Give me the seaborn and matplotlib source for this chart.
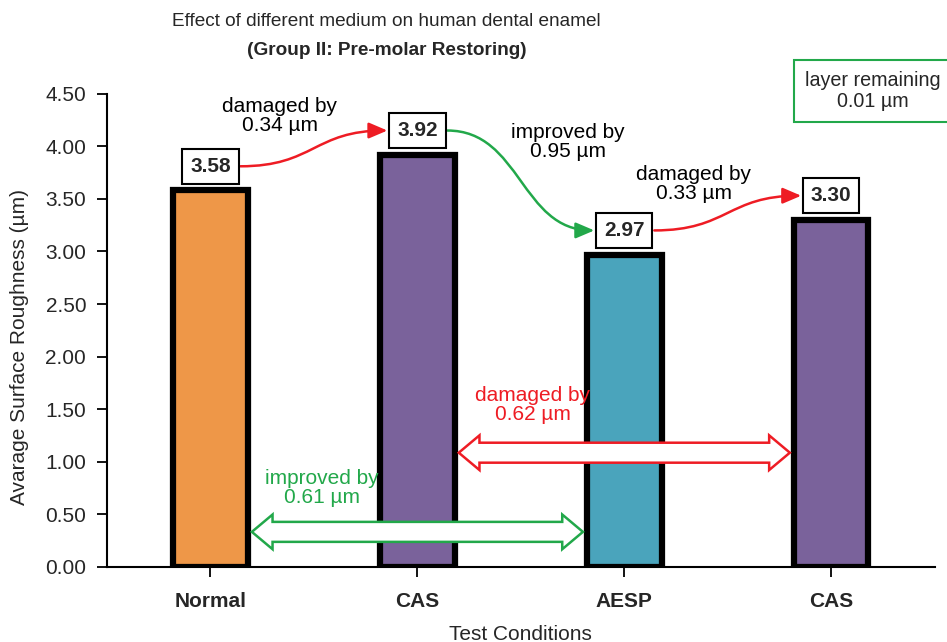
import matplotlib
matplotlib.use("Agg")
import numpy as np
import pandas as pd
import matplotlib.pyplot as plt
import seaborn as sns
from matplotlib.patches import FancyArrowPatch, Polygon
from matplotlib.path import Path

# ---- data ----
conditions = ["Normal", "CAS", "AESP", "CAS"]
step_ids = ["Normal", "CAS (1)", "AESP", "CAS (2)"]
roughness = [3.58, 3.92, 2.97, 3.30]
bar_colors = ["#EE9748", "#7A629B", "#4AA4BC", "#7A629B"]
y_ticks = [0.0, 0.5, 1.0, 1.5, 2.0, 2.5, 3.0, 3.5, 4.0, 4.5]

GREEN = "#22A84A"
RED = "#EE1C24"
FS = 15

sns.set_theme(style="white")
plt.rcParams['font.family'] = ['Liberation Sans', 'DejaVu Sans']

df = pd.DataFrame({"step": step_ids, "roughness": roughness})

fig = plt.figure(figsize=(9.47, 6.42), dpi=100)
ax = fig.add_axes([0.113, 0.117, 0.874, 0.737])

sns.barplot(data=df, x="step", y="roughness", hue="step", order=step_ids,
            palette=dict(zip(step_ids, bar_colors)), width=0.36,
            edgecolor="black", linewidth=4.5, saturation=1, legend=False, ax=ax)

ax.set_xlim(-0.5, 3.5)
ax.set_ylim(0, 4.5)
ax.set_yticks(y_ticks)
ax.set_yticklabels([f"{v:.2f}" for v in y_ticks], fontsize=FS)
ax.set_xticks(range(len(conditions)))
ax.set_xticklabels(conditions, fontsize=FS, fontweight="bold")
ax.tick_params(axis="y", left=True, direction="out", length=7, width=1.3, color="black", pad=8)
ax.tick_params(axis="x", bottom=True, direction="out", length=7, width=1.3, color="black", pad=11)
for s in ["top", "right"]:
    ax.spines[s].set_visible(False)
for s in ["left", "bottom"]:
    ax.spines[s].set_color("black")
    ax.spines[s].set_linewidth(1.5)

ax.set_ylabel("Avarage Surface Roughness (µm)", fontsize=FS)
ax.yaxis.set_label_coords(-0.094, 0.465)
ax.set_xlabel("Test Conditions", fontsize=FS, labelpad=10)

# title
fig.text(0.408, 0.966, "Effect of different medium on human dental enamel",
         ha="center", va="center", fontsize=13.7)
fig.text(0.408, 0.922, "(Group II: Pre-molar Restoring)",
         ha="center", va="center", fontsize=13.7, fontweight="bold")

# value boxes
box_off = 0.23
for i, v in enumerate(roughness):
    ax.text(i, v + box_off, f"{v:.2f}", ha="center", va="center", fontsize=FS,
            fontweight="bold", zorder=6,
            bbox=dict(boxstyle="square,pad=0.38", fc="white", ec="black", lw=1.5))

# curved step connectors
half_box = 0.145
text_pos = [(0.336, 4.29), (1.727, 4.04), (2.336, 3.64)]
for i in range(len(roughness) - 1):
    x0, y0 = i + half_box, roughness[i] + box_off
    x1, y1 = i + 1 - half_box, roughness[i + 1] + box_off
    xm = (x0 + x1) / 2
    path = Path([(x0, y0), (xm, y0), (xm, y1), (x1, y1)],
                [Path.MOVETO, Path.CURVE4, Path.CURVE4, Path.CURVE4])
    diff = roughness[i + 1] - roughness[i]
    col = RED if diff > 0 else GREEN
    word = "damaged by" if diff > 0 else "improved by"
    arr = FancyArrowPatch(path=path, arrowstyle="-|>,head_length=0.75,head_width=0.32",
                          mutation_scale=15, color=col, lw=1.8, zorder=4)
    ax.add_patch(arr)
    tx, ty = text_pos[i]
    ax.text(tx, ty, f"{word}\n{abs(diff):.2f} µm", ha="center", va="center",
            fontsize=FS, color="black", zorder=6, linespacing=1.0)


def fat_darrow(x0, x1, y, color, body=0.095, head=0.165, hl=0.1):
    pts = [(x0, y), (x0 + hl, y + head), (x0 + hl, y + body), (x1 - hl, y + body),
           (x1 - hl, y + head), (x1, y), (x1 - hl, y - head), (x1 - hl, y - body),
           (x0 + hl, y - body), (x0 + hl, y - head)]
    ax.add_patch(Polygon(pts, closed=True, fc="white", ec=color, lw=1.8, zorder=5))


bar_half = 0.2
# Normal vs AESP
d1 = roughness[0] - roughness[2]
fat_darrow(0 + bar_half, 2 - bar_half, 0.333, GREEN)
ax.text(0.539, 0.75, f"improved by\n{d1:.2f} µm", ha="center", va="center",
        fontsize=FS, color=GREEN, zorder=6, linespacing=1.0)
# CAS vs CAS
d2 = roughness[1] - roughness[3]
fat_darrow(1 + bar_half, 3 - bar_half, 1.086, RED)
ax.text(1.558, 1.54, f"damaged by\n{d2:.2f} µm", ha="center", va="center",
        fontsize=FS, color=RED, zorder=6, linespacing=1.0)

# layer remaining box
fig.text(805 / 947, 1 - 91 / 642, f"layer remaining\n{abs(d2 - d1):.2f} µm",
         ha="left", va="center", fontsize=14.2, multialignment="center", linespacing=1.15,
         bbox=dict(boxstyle="square,pad=0.55", fc="white", ec=GREEN, lw=1.5))

fig.savefig("out.png", dpi=100)
